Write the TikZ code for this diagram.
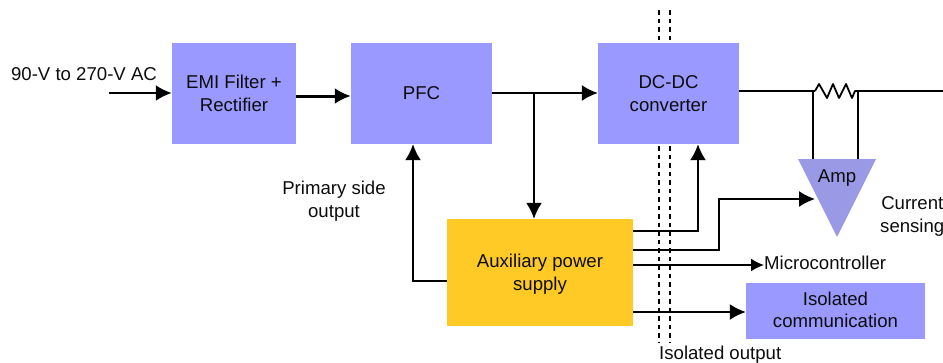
\documentclass[tikz,border=0pt]{standalone}
\usepackage{fontspec}
\setmainfont{Liberation Sans}
\usetikzlibrary{arrows.meta}
\definecolor{boxblue}{HTML}{9999FF}
\definecolor{auxamber}{HTML}{FFC926}
\definecolor{ampblue}{HTML}{9999E6}
\tikzset{
  blockbox/.style={fill=boxblue,inner sep=0pt,align=center},
  link/.style={line width=1.8pt,-{Latex[length=16pt,width=16pt]}},
  wire/.style={line width=1.8pt},
  lbl/.style={inner sep=0pt,align=center}
}
\begin{document}
\begin{tikzpicture}[x=1pt,y=-1pt,font=\fontsize{18.6}{22.4}\selectfont,text=black!95]
\useasboundingbox (0,0) rectangle (943,362);
\clip (0,0) rectangle (943,362);
\foreach \x in {659,670} % isolation barrier
\draw[line width=2.8pt,dash pattern=on 4.5pt off 4pt] (\x,10) -- (\x,342);
\node[blockbox,minimum width=124pt,minimum height=101pt] (emi) at (234,93.5) {EMI Filter +\\Rectifier};
\node[blockbox,minimum width=141pt,minimum height=101pt] (pfc) at (421.5,93.5) {PFC};
\node[blockbox,minimum width=141pt,minimum height=101pt] (dcdc) at (668.5,93.5) {DC-DC\\converter};
\node[fill=auxamber,minimum width=186pt,minimum height=107pt] (aux) at (540,272.5) {};
\node[lbl] (auxtext) at (540,274) {Auxiliary power\\[0.6pt]supply};
\node[fill=boxblue,minimum width=179pt,minimum height=56pt] (iso) at (835.5,311) {};
\node[lbl] (isotext) at (835.5,310) {Isolated\\communication};
\path[fill=ampblue] (798,159) coordinate (ampl) -- (876,159) coordinate (ampr) -- (837,237) -- cycle;
\coordinate (ampin) at (815,199);
\node[lbl] (amp) at (837,178) {Amp};
\node[lbl] (input) at (84,74) {90-V to 270-V AC};
\coordinate (inputs) at (109,93);
\node[lbl] (primary) at (334,201) {Primary side\\output};
\node[lbl,anchor=west] (current) at (880,216.5) {Current\\sensing};
\node[lbl,anchor=west] (micro) at (764,263) {Microcontroller};
\node[lbl,anchor=west] (isolated) at (659,355) {Isolated output};
\coordinate (rleft) at (815,91);
\coordinate (rright) at (855,91);
\coordinate (lineend) at (943,91);
\coordinate (tap) at (534,93);
% main power path
\draw[link,line width=2.4pt] (inputs) -- (emi.west |- inputs);
\draw[link,line width=3pt] (emi.east |- 0,96) -- (pfc.west |- 0,96);
\draw[link] (pfc.east |- tap) -- (dcdc.west |- tap);
\draw[link] (tap) -- (tap |- aux.north);
\draw[wire] (dcdc.east |- rleft) -- (rleft);
\draw[wire,line join=round] (rleft) -- (819,84) -- (827,98) -- (833,84) -- (839,98) -- (846,84) -- (852,98) -- (rright) -- (lineend);
\draw[wire] (813,91) -- (813,159);
\draw[wire] (858,91) -- (858,159);
% auxiliary supply outputs
\draw[link] (aux.west |- 0,281) -| (pfc.south -| 413,0);
\draw[link] (aux.east |- 0,231) -| (dcdc.south -| 698,0);
\draw[link] (aux.east |- 0,250) -- (719,250) |- (ampin);
\draw[link,-{Latex[length=13pt,width=13pt]}] (aux.east |- 0,265) -- (micro.west |- 0,265);
\draw[link] (aux.east |- 0,312) -- (iso.west |- 0,312);
\end{tikzpicture}
\end{document}
